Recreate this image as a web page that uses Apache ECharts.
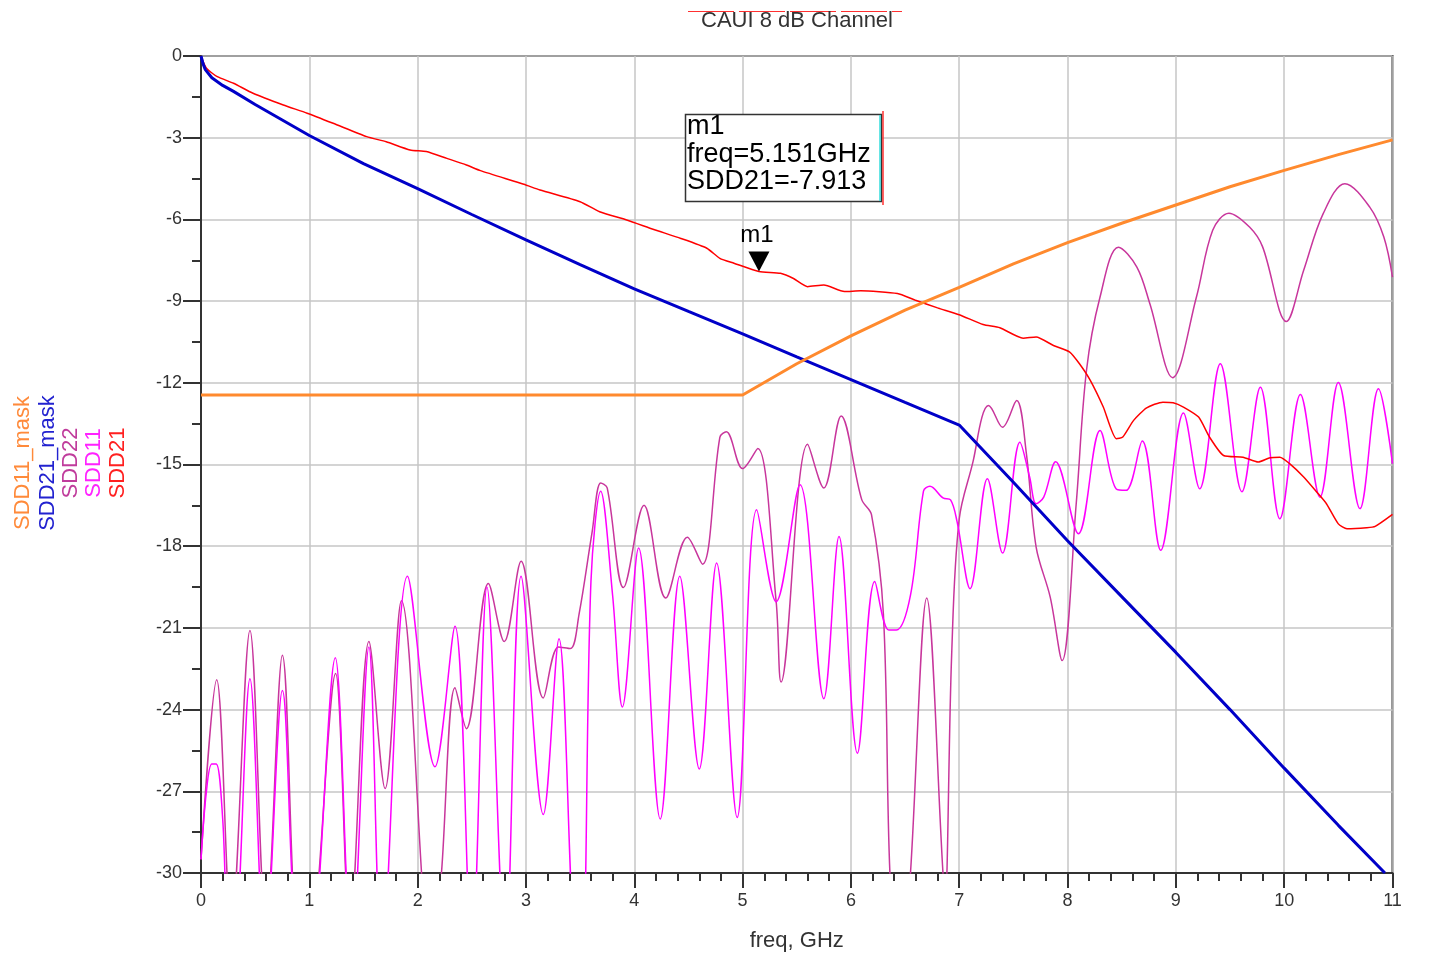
<!DOCTYPE html>
<html>
<head>
<meta charset="utf-8">
<script src="https://cdn.jsdelivr.net/npm/echarts@6/dist/echarts.min.js"></script>
<style>html,body{margin:0;padding:0;background:#fff}#c{width:1448px;height:955px}</style>
</head>
<body>
<div id="c"></div>
<script>
// ---- data: [freq GHz, dB] ----
const chartTitle = 'CAUI 8 dB Channel';
const xName = 'freq, GHz';
const legendNames = ['SDD11_mask', 'SDD21_mask', 'SDD22', 'SDD11', 'SDD21'];

const sdd11Mask = [[0,-12.45],[5,-12.45],[5.5,-11.3],[6,-10.28],[6.5,-9.33],[7,-8.5],[7.5,-7.63],[8,-6.85],[8.5,-6.14],[9,-5.47],[9.5,-4.8],[10,-4.2],[10.5,-3.62],[11,-3.08]];

const sdd21Mask = [[0,0],[0.02,-0.3],[0.04,-0.5],[0.1,-0.8],[0.2,-1.08],[0.3,-1.3],[0.5,-1.78],[0.75,-2.35],[1,-2.92],[1.5,-3.95],[2,-4.87],[2.5,-5.82],[3,-6.75],[3.5,-7.66],[4,-8.55],[4.5,-9.38],[5,-10.2],[5.5,-11.05],[6,-11.88],[6.5,-12.72],[7,-13.55],[7.5,-15.65],[8,-17.8],[8.5,-19.85],[9,-21.9],[9.5,-24.0],[10,-26.15],[10.5,-28.25],[10.93,-30]];

const sdd22 = [[0,-29.5],[0.145,-22.9],[0.28,-32],[0.452,-21.1],[0.6,-32],[0.751,-22.0],[0.88,-33],[0.97,-35],[1.07,-31],[1.243,-22.67],[1.375,-32],[1.55,-21.5],[1.70,-26.9],[1.85,-20.0],[2.07,-32],[2.13,-34],[2.22,-30],[2.345,-23.2],[2.45,-24.7],[2.653,-19.37],[2.80,-21.5],[2.955,-18.55],[3.16,-23.57],[3.30,-21.7],[3.41,-21.76],[3.49,-20.5],[3.61,-17.5],[3.69,-15.68],[3.75,-15.86],[3.90,-19.52],[4.09,-16.5],[4.29,-19.9],[4.49,-17.67],[4.63,-18.66],[4.79,-14.0],[4.85,-13.8],[5.0,-15.15],[5.14,-14.41],[5.31,-20.04],[5.355,-22.99],[5.60,-14.26],[5.75,-15.86],[5.91,-13.22],[6.10,-16.29],[6.19,-16.84],[6.30,-20.5],[6.36,-30],[6.45,-35],[6.55,-30],[6.70,-19.9],[6.85,-30],[6.87,-31],[6.93,-22],[7.0,-17.0],[7.13,-14.85],[7.21,-13.26],[7.27,-12.83],[7.40,-13.63],[7.53,-12.65],[7.62,-14.6],[7.71,-18.03],[7.84,-19.87],[7.95,-22.2],[8.08,-16.44],[8.175,-11.54],[8.30,-8.85],[8.47,-7.02],[8.64,-7.75],[8.76,-9.1],[8.97,-11.81],[9.19,-8.85],[9.34,-6.4],[9.49,-5.77],[9.68,-6.28],[9.80,-7.0],[10.02,-9.75],[10.18,-7.87],[10.36,-5.79],[10.56,-4.69],[10.79,-5.55],[10.92,-6.65],[11.0,-8.12]];

const sdd11 = [[0,-29.5],[0.05,-27],[0.1,-26],[0.14,-26],[0.2,-28],[0.26,-33],[0.3,-33],[0.452,-22.87],[0.59,-33],[0.751,-23.3],[0.88,-33],[1.0,-35],[1.08,-31],[1.24,-22.1],[1.39,-33],[1.55,-21.7],[1.67,-33],[1.906,-19.1],[2.16,-26.1],[2.345,-20.94],[2.5,-33],[2.64,-19.5],[2.81,-33],[2.955,-19.1],[3.16,-27.85],[3.305,-21.4],[3.47,-33],[3.52,-33],[3.60,-19.3],[3.69,-15.98],[3.80,-19.8],[3.89,-23.9],[4.04,-18.07],[4.24,-28.02],[4.42,-19.1],[4.60,-26.18],[4.76,-18.62],[4.95,-27.96],[5.13,-16.66],[5.31,-20.04],[5.53,-15.74],[5.75,-23.6],[5.89,-17.64],[6.06,-25.6],[6.22,-19.3],[6.35,-21.08],[6.42,-21.08],[6.55,-19.8],[6.67,-15.98],[6.73,-15.8],[6.85,-16.23],[6.92,-16.3],[6.98,-17.1],[7.10,-19.56],[7.26,-15.52],[7.40,-18.25],[7.56,-14.18],[7.65,-15.46],[7.71,-16.44],[7.78,-16.2],[7.89,-14.9],[8.10,-17.54],[8.30,-13.75],[8.45,-15.9],[8.54,-15.95],[8.69,-14.14],[8.86,-18.15],[9.07,-13.11],[9.22,-15.89],[9.41,-11.3],[9.61,-16.0],[9.78,-12.16],[9.96,-16.99],[10.15,-12.43],[10.33,-16.2],[10.50,-11.99],[10.70,-16.62],[10.87,-12.22],[11.0,-14.97]];

const sdd21 = [[0,0],[0.05,-0.45],[0.15,-0.76],[0.3,-1.0],[0.48,-1.37],[0.76,-1.8],[0.98,-2.1],[1.22,-2.47],[1.53,-2.96],[1.71,-3.15],[1.93,-3.45],[2.08,-3.51],[2.27,-3.76],[2.45,-4.0],[2.58,-4.21],[2.98,-4.71],[3.13,-4.92],[3.5,-5.35],[3.68,-5.72],[3.93,-6.02],[4.18,-6.37],[4.43,-6.7],[4.67,-7.06],[4.79,-7.43],[4.92,-7.61],[5.151,-7.913],[5.35,-7.98],[5.47,-8.17],[5.6,-8.47],[5.75,-8.41],[5.94,-8.65],[6.09,-8.62],[6.43,-8.72],[6.59,-8.96],[6.8,-9.25],[7.0,-9.5],[7.22,-9.86],[7.375,-9.98],[7.59,-10.36],[7.71,-10.32],[7.87,-10.63],[8.02,-10.87],[8.11,-11.3],[8.21,-11.91],[8.33,-12.89],[8.45,-14.05],[8.51,-13.99],[8.61,-13.38],[8.73,-12.92],[8.88,-12.71],[8.975,-12.73],[9.07,-12.89],[9.21,-13.26],[9.31,-13.99],[9.44,-14.67],[9.62,-14.73],[9.76,-14.91],[9.87,-14.75],[9.96,-14.73],[10.05,-14.97],[10.18,-15.46],[10.30,-16.01],[10.39,-16.44],[10.50,-17.18],[10.58,-17.36],[10.76,-17.32],[10.84,-17.27],[11.0,-16.83]];

const marker = [5.151, -7.913];
const markerName = 'm1';

// ---- chart ----
const FONT = '"Liberation Sans", Arial, sans-serif';
const colors = {SDD11_mask:'#ff8a2e', SDD21_mask:'#0000c8', SDD22:'#c8369c', SDD11:'#ff00ff', SDD21:'#ff0000'};
const legendColors = ['#ff8a3a', '#2222d0', '#c03c9c', '#ff22ff', '#ff2020'];
const legendX = [23, 47.5, 71, 93.5, 117.5];

const chart = echarts.init(document.getElementById('c'), null, {renderer:'canvas'});

const axisCommon = {
  axisLine: {show:true, onZero:false, lineStyle:{color:'#333', width:2}},
  axisTick: {show:true, inside:false, lineStyle:{color:'#333', width:2}},
  splitLine: {show:true, lineStyle:{color:'#c6c6c6', width:1.5}},
  axisLabel: {color:'#333', fontSize:18, fontFamily:FONT}
};

const graphics = [
  {type:'line', shape:{x1:688, y1:11.5, x2:902, y2:11.5}, style:{stroke:'#ff3030', lineWidth:1, lineDash:[46,5]}, z:1},
  {type:'text', x:797, y:21, style:{text:chartTitle, fill:'#333', font:'22px ' + FONT, textAlign:'center', textVerticalAlign:'middle'}, z:2},
  {type:'rect', shape:{x:685.5, y:114.5, width:196, height:87}, style:{fill:'#fff', stroke:'#333', lineWidth:1.5}, z:50},
  {type:'line', shape:{x1:880, y1:115, x2:880, y2:201}, style:{stroke:'#33dddd', lineWidth:1.5}, z:51},
  {type:'line', shape:{x1:883, y1:111, x2:883, y2:205}, style:{stroke:'#ff3030', lineWidth:1.5}, z:51},
  {type:'text', x:687, y:127, style:{text:markerName, fill:'#000', font:'27px ' + FONT, textAlign:'left', textVerticalAlign:'middle'}, z:52},
  {type:'text', x:687, y:155, style:{text:'freq=' + marker[0] + 'GHz', fill:'#000', font:'27px ' + FONT, textAlign:'left', textVerticalAlign:'middle'}, z:52},
  {type:'text', x:687, y:182, style:{text:'SDD21=' + marker[1], fill:'#000', font:'27px ' + FONT, textAlign:'left', textVerticalAlign:'middle'}, z:52}
];
legendNames.forEach((n, i) => {
  graphics.push({type:'text', x:legendX[i], y:463, rotation:Math.PI/2,
    style:{text:n, fill:legendColors[i], font:'22px ' + FONT, textAlign:'center', textVerticalAlign:'middle'}, z:5});
});

const option = {
  animation: false,
  backgroundColor: '#fff',
  grid: {left:201, top:56, width:1191.5, height:817, show:true, borderColor:'#333', borderWidth:2, backgroundColor:'transparent', containLabel:false, outerBoundsMode:'none'},
  xAxis: Object.assign({}, axisCommon, {
    type:'value', min:0, max:11, interval:1,
    axisTick: Object.assign({}, axisCommon.axisTick, {length:15}),
    minorTick: {show:true, splitNumber:5, length:8, lineStyle:{color:'#333', width:2}},
    axisLabel: Object.assign({}, axisCommon.axisLabel, {margin:19}),
    name: xName, nameLocation:'middle', nameGap:57,
    nameTextStyle: {color:'#333', fontSize:22, fontFamily:FONT}
  }),
  yAxis: Object.assign({}, axisCommon, {
    type:'value', min:-30, max:0, interval:3,
    axisTick: Object.assign({}, axisCommon.axisTick, {length:18}),
    minorTick: {show:true, splitNumber:2, length:9, lineStyle:{color:'#333', width:2}},
    axisLabel: Object.assign({}, axisCommon.axisLabel, {margin:19})
  }),
  graphic: graphics,
  series: [
    {name:'SDD22', type:'line', data:sdd22, showSymbol:false, smooth:0.35, clip:true, lineStyle:{color:colors.SDD22, width:1.5}, z:2},
    {name:'SDD11', type:'line', data:sdd11, showSymbol:false, smooth:0.35, clip:true, lineStyle:{color:colors.SDD11, width:1.5}, z:3},
    {name:'SDD21', type:'line', data:sdd21, showSymbol:false, smooth:0.2, clip:true, lineStyle:{color:colors.SDD21, width:1.5}, z:4,
      markPoint: {
        symbol:'path://M0,0 L22,0 L11,20 Z', symbolSize:[21,20], symbolOffset:[0,-10],
        itemStyle:{color:'#000'},
        label:{show:false},
        data:[
          {coord:marker, label:{show:false}},
          {coord:marker, symbol:'circle', symbolSize:1, symbolOffset:[0,0], itemStyle:{color:'rgba(0,0,0,0)'},
           label:{show:true, position:'inside', offset:[-2,-36], formatter:markerName, color:'#000', fontSize:24, fontFamily:FONT}}
        ]
      }
    },
    {name:'SDD21_mask', type:'line', data:sdd21Mask, showSymbol:false, clip:true, lineStyle:{color:colors.SDD21_mask, width:3}, z:5},
    {name:'SDD11_mask', type:'line', data:sdd11Mask, showSymbol:false, clip:true, lineStyle:{color:colors.SDD11_mask, width:3}, z:6}
  ]
};
chart.setOption(option);
</script>
</body>
</html>
